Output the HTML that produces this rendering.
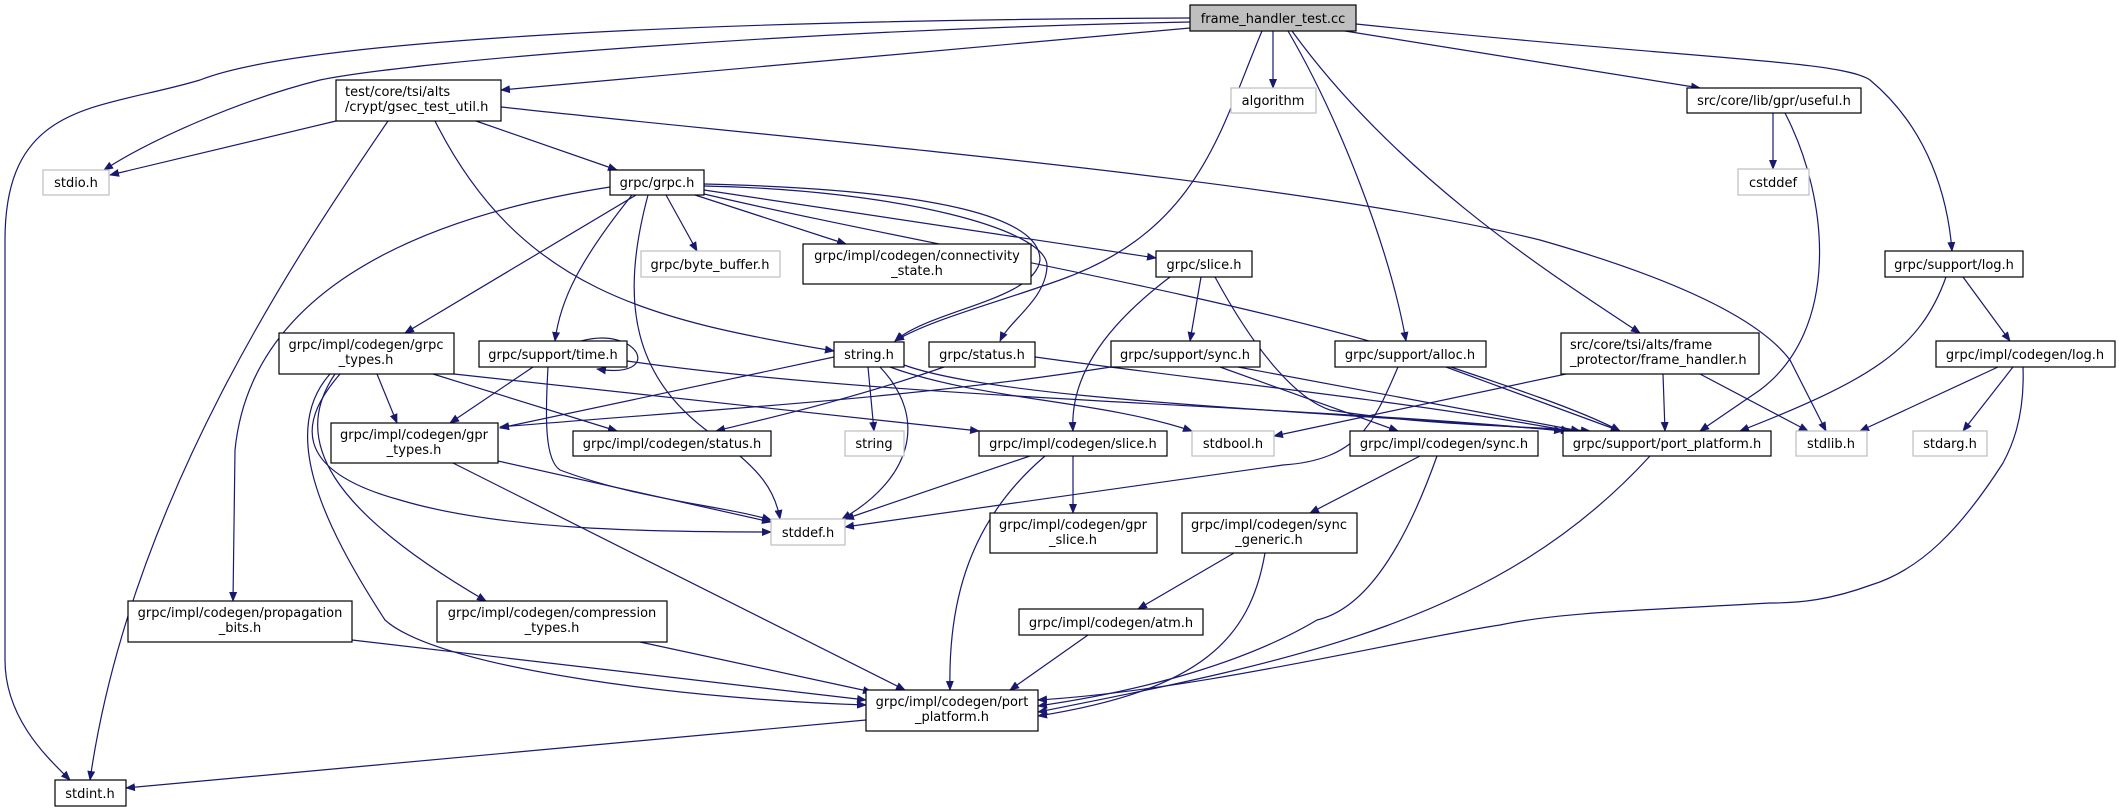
<!DOCTYPE html>
<html><head><meta charset="utf-8"><style>
html,body{margin:0;padding:0;background:#fff;}
svg{display:block;}
text{font-family:"DejaVu Sans","Liberation Sans",sans-serif;font-size:13px;fill:#000;}
.e{fill:none;stroke:#191970;stroke-width:1.2;marker-end:url(#a);}
.n{fill:#fff;stroke:#000;stroke-width:1.2;}
.g{fill:#fff;stroke:#bfbfbf;stroke-width:1.2;}
</style></head><body>
<svg width="2119" height="812" viewBox="0 0 2119 812" xmlns="http://www.w3.org/2000/svg">
<defs><marker id="a" markerWidth="10" markerHeight="8" refX="9" refY="4" orient="auto" markerUnits="userSpaceOnUse"><path d="M0,0 L10,4 L0,8 z" fill="#191970"/></marker></defs>
<!-- edges from root -->
<path class="e" d="M1190,18 C700,20 300,40 200,80 C100,110 5,100 5,240 L5,660 C5,720 50,760 70,780"/>
<path class="e" d="M1190,22 C800,30 420,60 320,80 C240,100 150,140 104,170"/>
<path class="e" d="M1190,28 L501,90"/>
<path class="e" d="M1262,31 C1220,130 1200,230 1060,280 C990,305 930,320 895,341"/>
<path class="e" d="M1273,31 L1273,88"/>
<path class="e" d="M1288,31 C1340,120 1390,250 1406,341"/>
<path class="e" d="M1292,31 C1400,180 1560,280 1640,333"/>
<path class="e" d="M1345,31 L1700,88"/>
<path class="e" d="M1356,24 C1700,60 1840,60 1870,80 C1930,130 1948,200 1952,251"/>
<!-- gsec -->
<path class="e" d="M336,121 L110,175"/>
<path class="e" d="M388,121 C300,250 130,500 90,780"/>
<path class="e" d="M435,121 C520,290 650,320 834,351"/>
<path class="e" d="M476,121 L617,170"/>
<path class="e" d="M501,107 C800,140 1300,180 1540,240 C1680,280 1760,320 1790,360 L1826,431"/>
<!-- grpc.h -->
<path class="e" d="M666,195 L697,251"/>
<path class="e" d="M695,195 L846,244"/>
<path class="e" d="M636,195 L405,333"/>
<path class="e" d="M632,195 C580,260 560,300 555,341"/>
<path class="e" d="M648,195 C620,300 630,380 720,440 C760,470 775,490 780,519"/>
<path class="e" d="M610,187 C400,220 250,300 235,450 L233,601"/>
<path class="e" d="M704,190 L1156,258"/>
<path class="e" d="M704,186 C900,190 1050,230 1047,267 C1045,300 1010,320 1000,341"/>
<path class="e" d="M704,184 C950,190 1040,220 1040,260 C1035,300 930,310 895,341"/>
<path class="e" d="M704,194 C900,240 1200,290 1400,350 C1520,390 1580,410 1620,431"/>
<!-- slice.h -->
<path class="e" d="M1201,277 L1190,341"/>
<path class="e" d="M1170,277 C1100,330 1070,380 1073,431"/>
<path class="e" d="M1215,277 C1260,360 1300,400 1330,410 C1420,425 1520,426 1590,431"/>
<!-- grpc_types -->
<path class="e" d="M377,374 L397,423"/>
<path class="e" d="M433,374 L617,431"/>
<path class="e" d="M454,374 L979,431"/>
<path class="e" d="M340,374 C300,420 290,470 400,500 C500,530 650,532 771,532"/>
<path class="e" d="M335,374 C290,440 330,510 486,601"/>
<path class="e" d="M330,374 C280,430 320,520 385,620 C440,670 700,700 866,705"/>
<!-- time.h -->
<path class="e" d="M581,341 C640,325 665,380 597,369"/>
<path class="e" d="M533,367 L450,423"/>
<path class="e" d="M548,367 C545,420 545,460 560,470 C640,500 720,505 771,520"/>
<path class="e" d="M627,361 C900,400 1300,405 1563,431"/>
<!-- string.h -->
<path class="e" d="M834,357 L500,428"/>
<path class="e" d="M868,367 L874,431"/>
<path class="e" d="M880,367 C930,420 910,480 842,519"/>
<path class="e" d="M890,367 C980,400 1100,400 1192,431"/>
<path class="e" d="M904,365 C1000,400 1300,410 1570,431"/>
<!-- status.h -->
<path class="e" d="M944,367 C850,400 760,420 716,431"/>
<path class="e" d="M1035,357 C1200,380 1400,400 1570,431"/>
<!-- gpr_types -->
<path class="e" d="M498,461 L771,522"/>
<path class="e" d="M453,463 L905,690"/>
<!-- codegen slice -->
<path class="e" d="M1073,456 L1073,513"/>
<path class="e" d="M1030,456 L845,519"/>
<path class="e" d="M1045,456 C970,520 948,600 950,690"/>
<!-- sync.h -->
<path class="e" d="M1111,367 C900,400 700,410 500,427"/>
<path class="e" d="M1220,367 L1398,431"/>
<path class="e" d="M1238,367 L1580,431"/>
<!-- alloc -->
<path class="e" d="M1398,367 C1375,420 1360,460 1283,465 L845,527"/>
<path class="e" d="M1446,367 L1620,431"/>
<!-- frame_handler.h -->
<path class="e" d="M1566,374 L1274,436"/>
<path class="e" d="M1663,374 L1665,431"/>
<path class="e" d="M1700,374 L1808,431"/>
<!-- useful -->
<path class="e" d="M1773,113 L1773,169"/>
<path class="e" d="M1785,113 C1830,200 1840,330 1760,390 L1700,431"/>
<!-- log.h -->
<path class="e" d="M1963,277 L2010,341"/>
<path class="e" d="M1946,277 C1920,350 1870,380 1740,431"/>
<!-- codegen log -->
<path class="e" d="M1998,367 L1860,431"/>
<path class="e" d="M2013,367 L1963,431"/>
<path class="e" d="M2023,367 C2025,420 2010,450 2003,463 C1960,530 1920,570 1871,585 C1830,600 1800,603 1770,603 C1650,610 1560,612 1500,625 C1400,640 1200,690 1038,700"/>
<!-- codegen sync -->
<path class="e" d="M1420,456 L1310,513"/>
<path class="e" d="M1437,456 C1400,560 1360,610 1317,620 C1250,660 1150,690 1038,706"/>
<!-- support port_platform -->
<path class="e" d="M1650,456 C1500,620 1300,660 1038,712"/>
<!-- sync_generic -->
<path class="e" d="M1265,553 C1250,640 1200,690 1038,716"/>
<path class="e" d="M1234,553 L1138,609"/>
<!-- atm -->
<path class="e" d="M1088,635 L1010,690"/>
<!-- prop / compression -->
<path class="e" d="M352,640 L866,700"/>
<path class="e" d="M640,642 L872,692"/>
<!-- codegen port -> stdint -->
<path class="e" d="M866,720 L126,788"/>

<!-- nodes -->
<rect x="1190" y="5" width="166" height="26" fill="#bfbfbf" stroke="#000" stroke-width="1.2"/><text x="1273" y="23" text-anchor="middle">frame_handler_test.cc</text>
<rect class="n" x="336" y="80" width="165" height="41"/><text x="345" y="96">test/core/tsi/alts</text><text x="345" y="111">/crypt/gsec_test_util.h</text>
<rect class="g" x="1231" y="88" width="85" height="25"/><text x="1273" y="105" text-anchor="middle">algorithm</text>
<rect class="n" x="1687" y="88" width="174" height="25"/><text x="1774" y="105" text-anchor="middle">src/core/lib/gpr/useful.h</text>
<rect class="g" x="43" y="170" width="66" height="25"/><text x="76" y="187" text-anchor="middle">stdio.h</text>
<rect class="n" x="610" y="170" width="94" height="25"/><text x="657" y="187" text-anchor="middle">grpc/grpc.h</text>
<rect class="g" x="1738" y="169" width="71" height="26"/><text x="1773" y="187" text-anchor="middle">cstddef</text>
<rect class="g" x="641" y="251" width="139" height="26"/><text x="710" y="269" text-anchor="middle">grpc/byte_buffer.h</text>
<rect class="n" x="803" y="244" width="228" height="40"/><text x="917" y="260" text-anchor="middle">grpc/impl/codegen/connectivity</text><text x="917" y="275" text-anchor="middle">_state.h</text>
<rect class="n" x="1156" y="251" width="96" height="26"/><text x="1204" y="269" text-anchor="middle">grpc/slice.h</text>
<rect class="n" x="1885" y="251" width="138" height="26"/><text x="1954" y="269" text-anchor="middle">grpc/support/log.h</text>
<rect class="n" x="279" y="333" width="175" height="41"/><text x="366" y="349" text-anchor="middle">grpc/impl/codegen/grpc</text><text x="366" y="364" text-anchor="middle">_types.h</text>
<rect class="n" x="479" y="341" width="148" height="26"/><text x="553" y="359" text-anchor="middle">grpc/support/time.h</text>
<rect class="n" x="834" y="342" width="70" height="25"/><text x="869" y="359" text-anchor="middle">string.h</text>
<rect class="n" x="929" y="342" width="106" height="25"/><text x="982" y="359" text-anchor="middle">grpc/status.h</text>
<rect class="n" x="1111" y="341" width="149" height="26"/><text x="1185" y="359" text-anchor="middle">grpc/support/sync.h</text>
<rect class="n" x="1335" y="341" width="151" height="26"/><text x="1410" y="359" text-anchor="middle">grpc/support/alloc.h</text>
<rect class="n" x="1561" y="333" width="198" height="41"/><text x="1570" y="349">src/core/tsi/alts/frame</text><text x="1570" y="364">_protector/frame_handler.h</text>
<rect class="n" x="1936" y="341" width="179" height="26"/><text x="2025" y="359" text-anchor="middle">grpc/impl/codegen/log.h</text>
<rect class="n" x="331" y="423" width="167" height="40"/><text x="414" y="439" text-anchor="middle">grpc/impl/codegen/gpr</text><text x="414" y="454" text-anchor="middle">_types.h</text>
<rect class="n" x="573" y="431" width="198" height="25"/><text x="672" y="448" text-anchor="middle">grpc/impl/codegen/status.h</text>
<rect class="g" x="845" y="431" width="59" height="25"/><text x="874" y="448" text-anchor="middle">string</text>
<rect class="n" x="979" y="431" width="188" height="25"/><text x="1073" y="448" text-anchor="middle">grpc/impl/codegen/slice.h</text>
<rect class="g" x="1192" y="431" width="82" height="25"/><text x="1233" y="448" text-anchor="middle">stdbool.h</text>
<rect class="n" x="1350" y="431" width="188" height="25"/><text x="1444" y="448" text-anchor="middle">grpc/impl/codegen/sync.h</text>
<rect class="n" x="1563" y="431" width="208" height="25"/><text x="1667" y="448" text-anchor="middle">grpc/support/port_platform.h</text>
<rect class="g" x="1796" y="431" width="71" height="25"/><text x="1831" y="448" text-anchor="middle">stdlib.h</text>
<rect class="g" x="1913" y="431" width="74" height="25"/><text x="1950" y="448" text-anchor="middle">stdarg.h</text>
<rect class="n" x="990" y="513" width="167" height="40"/><text x="1073" y="529" text-anchor="middle">grpc/impl/codegen/gpr</text><text x="1073" y="544" text-anchor="middle">_slice.h</text>
<rect class="g" x="771" y="519" width="74" height="26"/><text x="808" y="537" text-anchor="middle">stddef.h</text>
<rect class="n" x="1182" y="513" width="175" height="40"/><text x="1269" y="529" text-anchor="middle">grpc/impl/codegen/sync</text><text x="1269" y="544" text-anchor="middle">_generic.h</text>
<rect class="n" x="128" y="601" width="224" height="41"/><text x="240" y="617" text-anchor="middle">grpc/impl/codegen/propagation</text><text x="240" y="632" text-anchor="middle">_bits.h</text>
<rect class="n" x="437" y="601" width="230" height="41"/><text x="552" y="617" text-anchor="middle">grpc/impl/codegen/compression</text><text x="552" y="632" text-anchor="middle">_types.h</text>
<rect class="n" x="1019" y="609" width="184" height="26"/><text x="1111" y="627" text-anchor="middle">grpc/impl/codegen/atm.h</text>
<rect class="n" x="866" y="690" width="172" height="41"/><text x="952" y="706" text-anchor="middle">grpc/impl/codegen/port</text><text x="952" y="721" text-anchor="middle">_platform.h</text>
<rect class="n" x="55" y="780" width="71" height="26"/><text x="90" y="798" text-anchor="middle">stdint.h</text>
</svg>
</body></html>
